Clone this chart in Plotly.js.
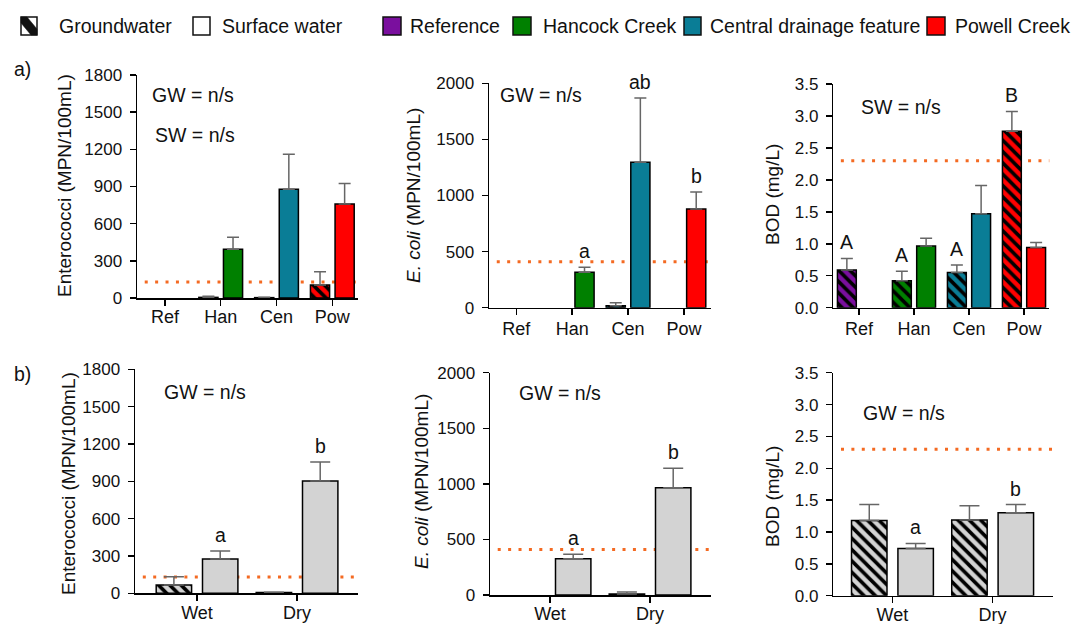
<!DOCTYPE html>
<html>
<head>
<meta charset="utf-8">
<script src="https://cdn.plot.ly/plotly-3.0.1.min.js"></script>
<style>html,body{margin:0;padding:0;background:#fff;}#chart{width:1073px;height:624px;}</style>
</head>
<body>
<div id="chart"></div>
<script>
// ---------- data ----------
const sites = ['Ref', 'Han', 'Cen', 'Pow'];
const siteColors = ['#7A0F9E', '#008000', '#0A7D96', '#FF0000'];
const seasons = ['Wet', 'Dry'];

// Enterococci by site (MPN/100mL)
const entGW = [null, 5, 3, 105];
const entGWerr = [0, 10, 3, 107];
const entSW = [null, 393, 877, 758];
const entSWerr = [0, 97, 283, 167];

// E. coli by site (MPN/100mL)
const ecoliGW = [null, null, 18, null];
const ecoliGWerr = [0, 0, 27, 0];
const ecoliSW = [null, 315, 1296, 879];
const ecoliSWerr = [0, 45, 572, 152];
const ecoliSWletters = ['', 'a', 'ab', 'b'];

// BOD by site (mg/L)
const bodGW = [0.59, 0.42, 0.55, 2.76];
const bodGWerr = [0.18, 0.15, 0.12, 0.31];
const bodSW = [null, 0.965, 1.47, 0.94];
const bodSWerr = [0, 0.12, 0.44, 0.08];
const bodGWletters = ['A', 'A', 'A', 'B'];

// by season
const entSeasonGW = [67, 6];
const entSeasonGWerr = [66, 2];
const entSeasonSW = [276, 903];
const entSeasonSWerr = [64, 153];
const entSeasonLetters = ['a', 'b'];

const ecoliSeasonGW = [null, 9];
const ecoliSeasonGWerr = [0, 18];
const ecoliSeasonSW = [327, 966];
const ecoliSeasonSWerr = [39, 174];
const ecoliSeasonLetters = ['a', 'b'];

const bodSeasonGW = [1.18, 1.19];
const bodSeasonGWerr = [0.25, 0.22];
const bodSeasonSW = [0.74, 1.30];
const bodSeasonSWerr = [0.08, 0.13];
const bodSeasonLetters = ['a', 'b'];

// guideline values
const entThreshold = 130;
const ecoliThreshold = 410;
const bodThreshold = 2.3;

// ---------- helpers ----------
const W = 1073, H = 624;
const PX = v => v / W;
const PY = v => 1 - v / H;
const FONT = 'Liberation Sans, Arial, Helvetica, sans-serif';
const gray = '#D3D3D3';
const dotColor = '#F46A22';

const TOP = {width: 0.343, gw: -0.392, sw: 0.049, cap: 6};
const BOT = {width: 0.354, gw: -0.408, sw: 0.055, cap: 10};

function errY(err, cap) {
  return {type: 'data', symmetric: false, array: err, arrayminus: err.map(() => 0),
          color: '#666666', thickness: 1.5, width: cap, visible: true};
}
function barTrace(cats, vals, err, geo, which, xa, ya, fill, patterned) {
  const marker = {color: fill, line: {color: 'black', width: 1.5}};
  if (patterned) {
    marker.pattern = {shape: '\\', fgcolor: 'black', bgcolor: fill, size: 8, solidity: 0.45,
                      fillmode: 'replace', fgopacity: 1};
  }
  return {type: 'bar', x: cats, y: vals, xaxis: xa, yaxis: ya,
          width: geo.width, offset: which === 'gw' ? geo.gw : geo.sw,
          marker: marker, error_y: errY(err, geo.cap), hoverinfo: 'skip'};
}
// hatched groundwater bars coloured per site: one trace per site (scalar colour)
function gwBySite(vals, err, xa, ya) {
  return sites.map((s, i) => barTrace([s], [vals[i]], [err[i]], TOP, 'gw', xa, ya, siteColors[i], true));
}

const traces = [].concat(
  gwBySite(entGW, entGWerr, 'x', 'y'),
  [barTrace(sites, entSW, entSWerr, TOP, 'sw', 'x', 'y', siteColors, false)],
  gwBySite(ecoliGW, ecoliGWerr, 'x2', 'y2'),
  [barTrace(sites, ecoliSW, ecoliSWerr, TOP, 'sw', 'x2', 'y2', siteColors, false)],
  gwBySite(bodGW, bodGWerr, 'x3', 'y3'),
  [barTrace(sites, bodSW, bodSWerr, TOP, 'sw', 'x3', 'y3', siteColors, false)],
  [
    barTrace(seasons, entSeasonGW, entSeasonGWerr, BOT, 'gw', 'x4', 'y4', gray, true),
    barTrace(seasons, entSeasonSW, entSeasonSWerr, BOT, 'sw', 'x4', 'y4', gray, false),
    barTrace(seasons, ecoliSeasonGW, ecoliSeasonGWerr, BOT, 'gw', 'x5', 'y5', gray, true),
    barTrace(seasons, ecoliSeasonSW, ecoliSeasonSWerr, BOT, 'sw', 'x5', 'y5', gray, false),
    barTrace(seasons, bodSeasonGW, bodSeasonGWerr, BOT, 'gw', 'x6', 'y6', gray, true),
    barTrace(seasons, bodSeasonSW, bodSeasonSWerr, BOT, 'sw', 'x6', 'y6', gray, false)
  ]
);

function xAxis(x0, x1, anchor, range, cats, standoff) {
  return {domain: [PX(x0), PX(x1)], anchor: anchor, type: 'category',
          categoryorder: 'array', categoryarray: cats, range: range,
          showline: true, linecolor: 'black', linewidth: 1.5, mirror: false,
          ticks: 'outside', ticklen: 6, tickwidth: 1.5, tickcolor: 'black',
          tickfont: {family: FONT, size: 18, color: '#111'},
          showgrid: false, zeroline: false, fixedrange: true, ticklabelstandoff: standoff};
}
function yAxis(top, bottom, anchor, range, dtick, fmt) {
  return {domain: [PY(bottom), PY(top)], anchor: anchor, range: range,
          tick0: 0, dtick: dtick, tickformat: fmt || '',
          showline: true, linecolor: 'black', linewidth: 1.5,
          ticks: 'outside', ticklen: 6, tickwidth: 1.5, tickcolor: 'black',
          tickfont: {family: FONT, size: 17, color: '#111'},
          showgrid: false, zeroline: false, fixedrange: true, ticklabelstandoff: 4};
}

function thresholdLine(xa, ya, val) {
  return {type: 'line', xref: xa + ' domain', yref: ya, x0: 0.035, x1: 1, y0: val, y1: val,
          layer: 'below', line: {color: dotColor, width: 3, dash: '3px,7.4px'}};
}

const annotations = [];
function txt(x, y, s, opt) {
  annotations.push(Object.assign({xref: 'paper', yref: 'paper', x: PX(x), y: PY(y), text: s,
    showarrow: false, xanchor: 'left', yanchor: 'middle',
    font: {family: FONT, size: 19.5, color: '#111'}}, opt || {}));
}
function ytitle(x, y, s) {
  txt(x, y, s, {textangle: -90, xanchor: 'center', yanchor: 'middle', font: {family: FONT, size: 19, color: '#111'}});
}
function letters(labels, vals, err, geo, which, xa, ya) {
  const off = (which === 'gw' ? geo.gw : geo.sw) + geo.width / 2;
  labels.forEach((l, i) => {
    if (!l) return;
    annotations.push({xref: xa, yref: ya, x: i + off, y: vals[i] + err[i], text: l,
      showarrow: false, xanchor: 'center', yanchor: 'bottom', yshift: 3,
      font: {family: FONT, size: 19.5, color: '#111'}});
  });
}

letters(ecoliSWletters, ecoliSW, ecoliSWerr, TOP, 'sw', 'x2', 'y2');
letters(bodGWletters, bodGW, bodGWerr, TOP, 'gw', 'x3', 'y3');
letters(entSeasonLetters, entSeasonSW, entSeasonSWerr, BOT, 'sw', 'x4', 'y4');
letters(ecoliSeasonLetters, ecoliSeasonSW, ecoliSeasonSWerr, BOT, 'sw', 'x5', 'y5');
letters(bodSeasonLetters, bodSeasonSW, bodSeasonSWerr, BOT, 'sw', 'x6', 'y6');

// panel texts
txt(12, 69, 'a)');
txt(12, 374, 'b)');
txt(150, 95, 'GW = n/s');
txt(153, 135, 'SW = n/s');
txt(498, 95, 'GW = n/s');
txt(859, 107, 'SW = n/s');
txt(162, 392, 'GW = n/s');
txt(517, 393, 'GW = n/s');
txt(861, 413, 'GW = n/s');

// axis titles
ytitle(64, 186, 'Enterococci (MPN/100mL)');
ytitle(413, 196, '<i>E. coli</i> (MPN/100mL)');
ytitle(772, 195, 'BOD (mg/L)');
ytitle(68, 484, 'Enterococci (MPN/100mL)');
ytitle(421, 482, '<i>E. coli</i> (MPN/100mL)');
ytitle(773, 497, 'BOD (mg/L)');

// legend (swatches as shapes, labels as text)
const legendItems = [
  {box: [21, 37], text: 57, label: 'Groundwater', fill: 'white', hatch: true},
  {box: [193, 210], text: 220, label: 'Surface water', fill: 'white'},
  {box: [383, 401], text: 408, label: 'Reference', fill: siteColors[0]},
  {box: [513, 531], text: 541, label: 'Hancock Creek', fill: siteColors[1]},
  {box: [684, 701], text: 708, label: 'Central drainage feature', fill: siteColors[2]},
  {box: [927, 945], text: 953, label: 'Powell Creek', fill: siteColors[3]}
];
const shapes = [
  thresholdLine('x', 'y', entThreshold),
  thresholdLine('x2', 'y2', ecoliThreshold),
  thresholdLine('x3', 'y3', bodThreshold),
  thresholdLine('x4', 'y4', entThreshold),
  thresholdLine('x5', 'y5', ecoliThreshold),
  thresholdLine('x6', 'y6', bodThreshold)
];
const LY0 = 17, LY1 = 35;
legendItems.forEach(it => {
  const [a, b] = it.box;
  shapes.push({type: 'rect', xref: 'paper', yref: 'paper', x0: PX(a), x1: PX(b), y0: PY(LY1), y1: PY(LY0),
               fillcolor: it.fill, line: {color: '#111', width: 1.5}, layer: 'above'});
  if (it.hatch) {
    const p = [[a, LY0], [a + 6, LY0], [b, LY1 - 6], [b, LY1], [b - 6, LY1], [a, LY0 + 6]];
    const path = 'M' + p.map(q => PX(q[0]) + ',' + PY(q[1])).join(' L') + ' Z';
    shapes.push({type: 'path', xref: 'paper', yref: 'paper', path: path, fillcolor: '#111',
                 line: {color: '#111', width: 0.5}, layer: 'above'});
  }
  txt(it.text, 26, it.label, {font: {family: FONT, size: 19.5, color: '#111'}});
});

const layout = {
  width: W, height: H, margin: {l: 0, r: 0, t: 0, b: 0},
  paper_bgcolor: 'white', plot_bgcolor: 'rgba(0,0,0,0)',
  barmode: 'overlay', showlegend: false,
  font: {family: FONT, size: 17, color: '#111'},
  xaxis:  xAxis(137, 358, 'y', [-0.5, 3.46], sites, -4),
  yaxis:  yAxis(75, 298, 'x', [0, 1800], 300),
  xaxis2: xAxis(489, 710.7, 'y2', [-0.49, 3.48], sites, -2),
  yaxis2: yAxis(83.3, 307.7, 'x2', [0, 2000], 500),
  xaxis3: xAxis(833.3, 1049.3, 'y3', [-0.467, 3.46], sites, -2),
  yaxis3: yAxis(84, 307.7, 'x3', [0, 3.5], 0.5, '.1f'),
  xaxis4: xAxis(135, 358, 'y4', [-0.62, 1.61], seasons, -3),
  yaxis4: yAxis(369.3, 593.3, 'x4', [0, 1800], 300),
  xaxis5: xAxis(490, 710.7, 'y5', [-0.6, 1.607], seasons, -4),
  yaxis5: yAxis(372.7, 595, 'x5', [0, 2000], 500),
  xaxis6: xAxis(833.3, 1052.7, 'y6', [-0.59, 1.6], seasons, -4),
  yaxis6: yAxis(372.7, 595.7, 'x6', [0, 3.5], 0.5, '.1f'),
  shapes: shapes,
  annotations: annotations
};

Plotly.newPlot('chart', traces, layout, {displayModeBar: false, staticPlot: true});
</script>
</body>
</html>
